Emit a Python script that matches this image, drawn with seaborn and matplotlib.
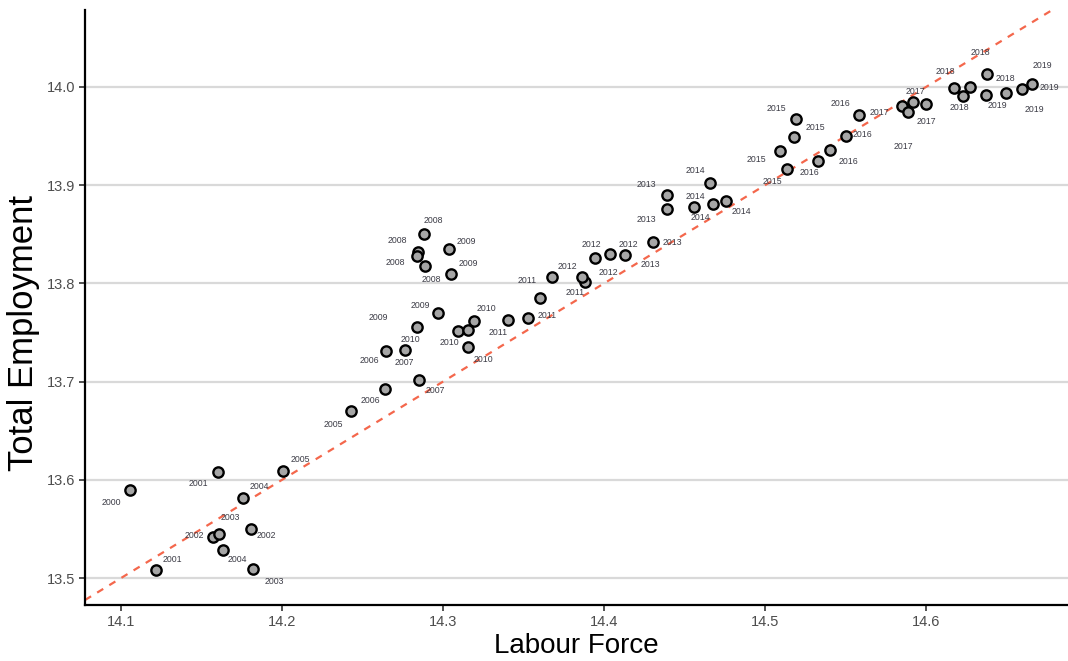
import matplotlib
matplotlib.use("Agg")
import matplotlib.pyplot as plt
import seaborn as sns
import pandas as pd

# Year of each observation
years = [
    2000,
    2001, 2001, 2002, 2002, 2003, 2003, 2004, 2004, 2005, 2005,
    2006, 2006, 2007, 2007,
    2008, 2008, 2008, 2008, 2009, 2009, 2009, 2009,
    2010, 2010, 2010, 2010, 2011, 2011, 2011, 2011,
    2012, 2012, 2012, 2012, 2013, 2013, 2013, 2013,
    2014, 2014, 2014, 2014, 2015, 2015, 2015, 2015,
    2016, 2016, 2016, 2016, 2017, 2017, 2017, 2017,
    2018, 2018, 2018, 2018, 2019, 2019, 2019, 2019,
]

# Log labour force
labour_force = [
    14.1056,
    14.1604, 14.1217, 14.1573, 14.1806, 14.1611, 14.1818, 14.1756, 14.1635, 14.2008, 14.2429,
    14.2646, 14.2640, 14.2764, 14.2849,
    14.2884, 14.2847, 14.2837, 14.2888, 14.3037, 14.3050, 14.2971, 14.2840,
    14.3193, 14.3093, 14.3157, 14.3153, 14.3406, 14.3528, 14.3602, 14.3880,
    14.3679, 14.3863, 14.3944, 14.4037, 14.4130, 14.4306, 14.4389, 14.4393,
    14.4658, 14.4559, 14.4679, 14.4758, 14.5193, 14.5182, 14.5093, 14.5135,
    14.5327, 14.5404, 14.5503, 14.5586, 14.5849, 14.5886, 14.5921, 14.6000,
    14.6172, 14.6228, 14.6275, 14.6379, 14.6371, 14.6497, 14.6598, 14.6657,
]

# Log total employment
total_employment = [
    13.5896,
    13.6082, 13.5081, 13.5421, 13.5496, 13.5448, 13.5095, 13.5818, 13.5285, 13.6090, 13.6698,
    13.7312, 13.6922, 13.7319, 13.7016,
    13.8500, 13.8323, 13.8279, 13.8177, 13.8347, 13.8096, 13.7702, 13.7553,
    13.7620, 13.7515, 13.7522, 13.7355, 13.7627, 13.7645, 13.7848, 13.8011,
    13.8065, 13.8068, 13.8256, 13.8296, 13.8292, 13.8425, 13.8897, 13.8758,
    13.9025, 13.8775, 13.8812, 13.8839, 13.9671, 13.9494, 13.9348, 13.9162,
    13.9243, 13.9358, 13.9501, 13.9718, 13.9810, 13.9742, 13.9844, 13.9830,
    13.9993, 13.9911, 13.9997, 14.0132, 13.9915, 13.9936, 13.9983, 14.0031,
]

# Reference line: employment = intercept + slope * labour force
line_intercept = -0.6
line_slope = 1.0

x_ticks = [14.1, 14.2, 14.3, 14.4, 14.5, 14.6]
y_ticks = [13.5, 13.6, 13.7, 13.8, 13.9, 14.0]

# Where each year label sits relative to its point (pixels, right / up)
label_offsets = [
    (-19, -12),
    (-20, -12), (16, 11), (-19, 1), (16, -6), (11, 17), (22, -13), (17, 11), (14, -9), (17, 11), (-18, -13),
    (-17, -10), (-15, -11), (-1, -12), (17, -10),
    (9, 14), (-21, 11), (-21, -7), (6, -13), (17, 8), (17, 10), (-18, 7), (-39, 10),
    (12, 12), (-48, -8), (-19, -12), (16, -13), (-10, -12), (19, 3), (-13, 18), (-10, -10),
    (15, 11), (26, 4), (-4, 14), (18, 10), (25, -10), (19, -1), (-20, 11), (-21, -11),
    (-15, 12), (1, 11), (-13, -14), (15, -11), (-20, 11), (21, 9), (-24, -8), (-14, -12),
    (-8, -11), (18, -11), (16, 1), (-19, 11), (-22, -7), (-4, -34), (2, 11), (0, -18),
    (-8, 16), (-3, -12), (10, 35), (18, -4), (12, -10), (28, -16), (27, 1), (11, 18),
]

df = pd.DataFrame({"year": years, "lf": labour_force, "emp": total_employment})

sns.set_theme(style="white")
plt.rcParams["font.family"] = ["Liberation Sans", "DejaVu Sans"]

fig = plt.figure(figsize=(10.68, 6.61), dpi=100)
ax = fig.add_axes([0.0796, 0.0841, 0.9204, 0.9002])

ax.set_xlim(14.0776, 14.6882)
ax.set_ylim(13.4721, 14.078)

for yv in y_ticks:
    ax.axhline(yv, color="#d9d9d9", linewidth=1.6, zorder=0)

ax.axline((14.1, line_intercept + line_slope * 14.1), slope=line_slope,
          color="#f4674c", linewidth=1.6, linestyle=(0, (3.2, 3.2)), zorder=1)

sns.scatterplot(data=df, x="lf", y="emp", ax=ax, s=55, color="#a6a6a6",
                edgecolor="black", linewidth=1.7, zorder=3, legend=False)

for (yr, xv, yv), (dx, dy) in zip(zip(years, labour_force, total_employment), label_offsets):
    ax.annotate(str(yr), (xv, yv), xytext=(dx, dy), textcoords="offset pixels",
                ha="center", va="center", fontsize=6.3, color="#3c3c46", zorder=4)

ax.set_xticks(x_ticks)
ax.set_yticks(y_ticks)
ax.set_xticklabels([f"{t:.1f}" for t in x_ticks], fontsize=10.5)
ax.set_yticklabels([f"{t:.1f}" for t in y_ticks], fontsize=10.5)
ax.tick_params(axis="both", which="major", length=4, width=1.2, color="#333333",
               labelcolor="#4d4d4d", pad=3, direction="out",
               bottom=True, left=True)

for side in ("top", "right"):
    ax.spines[side].set_visible(False)
for side in ("left", "bottom"):
    ax.spines[side].set_color("black")
    ax.spines[side].set_linewidth(1.6)

ax.set_xlabel("Labour Force", fontsize=20, color="black", labelpad=3)
ax.set_ylabel("Total Employment", fontsize=25, color="black")
ax.yaxis.set_label_coords(-0.046, 0.458)

fig.savefig("out.png", dpi=100)
